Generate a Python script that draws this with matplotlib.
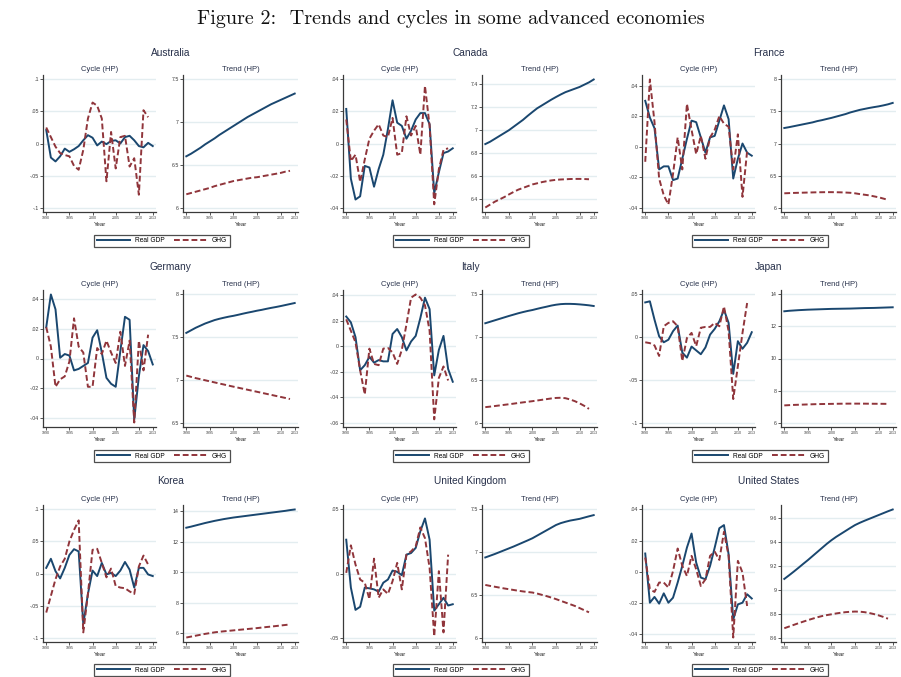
import matplotlib
matplotlib.use("Agg")
import matplotlib.pyplot as plt
from matplotlib.lines import Line2D
from matplotlib.ticker import FixedLocator, FuncFormatter

# ---------------- data ----------------
years_gdp = list(range(1990, 2014))
years_ghg = list(range(1990, 2013))
xticks = [1990, 1995, 2000, 2005, 2010, 2013]

countries = ["Australia", "Canada", "France", "Germany", "Italy", "Japan",
             "Korea", "United Kingdom", "United States"]

# Australia
aus_gdp_cycle = [0.021, -0.022, -0.028, -0.020, -0.008, -0.013, -0.009, -0.004, 0.005, 0.013, 0.009, -0.003,
                 0.003, -0.001, 0.004, 0.005, 0.000, 0.010, 0.012, 0.005, -0.004, -0.006, 0.001, -0.004]
aus_ghg_cycle = [0.025, 0.010, -0.005, -0.015, -0.018, -0.020, -0.035, -0.041, -0.010, 0.039, 0.064, 0.059,
                 0.039, -0.059, 0.018, -0.039, 0.010, 0.012, -0.036, -0.023, -0.080, 0.052, 0.041]
aus_gdp_trend = [6.60, 6.63, 6.665, 6.70, 6.74, 6.775, 6.81, 6.85, 6.885, 6.92, 6.955, 6.99,
                 7.025, 7.06, 7.09, 7.12, 7.15, 7.18, 7.21, 7.235, 7.26, 7.285, 7.31, 7.335]
aus_ghg_trend = [6.155, 6.17, 6.185, 6.20, 6.215, 6.23, 6.25, 6.265, 6.28, 6.295, 6.31, 6.32,
                 6.33, 6.34, 6.35, 6.355, 6.365, 6.375, 6.385, 6.395, 6.405, 6.42, 6.43]

# Canada
can_gdp_cycle = [0.0216, -0.022, -0.035, -0.033, -0.014, -0.015, -0.027, -0.016, -0.007, 0.009, 0.027, 0.013,
                 0.011, 0.003, 0.008, 0.015, 0.019, 0.019, 0.012, -0.031, -0.018, -0.006, -0.005, -0.003]
can_ghg_cycle = [0.015, -0.011, -0.007, -0.024, -0.010, 0.003, 0.008, 0.012, 0.005, 0.004, 0.016, -0.007,
                 -0.006, 0.017, 0.005, 0.011, -0.007, 0.036, 0.011, -0.038, -0.016, -0.004, -0.003]
can_gdp_trend = [6.88, 6.90, 6.925, 6.95, 6.975, 7.00, 7.03, 7.06, 7.09, 7.125, 7.158, 7.19,
                 7.215, 7.24, 7.265, 7.288, 7.31, 7.33, 7.345, 7.36, 7.375, 7.395, 7.415, 7.44]
can_ghg_trend = [6.33, 6.355, 6.38, 6.40, 6.42, 6.443, 6.465, 6.485, 6.50, 6.515, 6.53, 6.54,
                 6.55, 6.558, 6.565, 6.57, 6.573, 6.575, 6.577, 6.578, 6.578, 6.577, 6.575]

# France
fra_gdp_cycle = [0.030, 0.019, 0.012, -0.015, -0.013, -0.013, -0.022, -0.021, -0.008, 0.005, 0.017, 0.016,
                 0.006, -0.004, 0.006, 0.007, 0.017, 0.027, 0.018, -0.021, -0.008, 0.002, -0.004, -0.006]
fra_ghg_cycle = [-0.010, 0.044, 0.016, -0.021, -0.032, -0.038, -0.018, 0.006, -0.015, 0.028, 0.011, -0.005,
                 0.007, -0.008, 0.006, 0.011, 0.020, 0.015, 0.013, -0.015, 0.008, -0.033, -0.003]
fra_gdp_trend = [7.242, 7.255, 7.27, 7.285, 7.30, 7.315, 7.33, 7.35, 7.365, 7.383, 7.40, 7.42,
                 7.44, 7.46, 7.485, 7.505, 7.525, 7.54, 7.555, 7.568, 7.58, 7.595, 7.612, 7.634]
fra_ghg_trend = [6.222, 6.225, 6.228, 6.23, 6.232, 6.234, 6.236, 6.238, 6.239, 6.24, 6.24, 6.239,
                 6.237, 6.234, 6.23, 6.222, 6.21, 6.20, 6.19, 6.175, 6.16, 6.14, 6.12]

# Germany
deu_gdp_cycle = [0.021, 0.043, 0.033, 0.0005, 0.003, 0.002, -0.008, -0.007, -0.005, -0.003, 0.014, 0.019,
                 0.004, -0.013, -0.017, -0.019, 0.005, 0.028, 0.026, -0.041, -0.012, 0.009, 0.005, -0.004]
deu_ghg_cycle = [0.021, 0.008, -0.019, -0.014, -0.012, -0.002, 0.027, 0.008, 0.004, -0.019, -0.019, 0.007,
                 0.003, 0.012, 0.004, -0.003, 0.018, -0.005, 0.012, -0.043, 0.012, -0.008, 0.016]
deu_gdp_trend = [7.55, 7.58, 7.61, 7.635, 7.66, 7.68, 7.70, 7.715, 7.728, 7.74, 7.75, 7.762,
                 7.775, 7.787, 7.798, 7.81, 7.82, 7.832, 7.843, 7.853, 7.864, 7.876, 7.888, 7.90]
deu_ghg_trend = [7.05, 7.035, 7.02, 7.008, 6.995, 6.982, 6.97, 6.957, 6.945, 6.932, 6.92, 6.908,
                 6.896, 6.884, 6.872, 6.86, 6.848, 6.836, 6.824, 6.812, 6.80, 6.788, 6.775]

# Italy
ita_gdp_cycle = [0.0232, 0.0186, 0.007, -0.019, -0.015, -0.0085, -0.013, -0.011, -0.012, -0.012, 0.0095, 0.0134,
                 0.007, -0.0034, 0.0036, 0.008, 0.022, 0.038, 0.029, -0.023, -0.003, 0.008, -0.018, -0.028]
ita_ghg_cycle = [0.021, 0.012, 0.003, -0.019, -0.038, -0.002, -0.014, -0.015, -0.002, -0.0015, -0.005, -0.014,
                 -0.003, 0.017, 0.038, 0.0405, 0.038, 0.032, 0.012, -0.0575, -0.025, -0.016, -0.027]
ita_gdp_trend = [7.163, 7.18, 7.197, 7.214, 7.231, 7.248, 7.264, 7.28, 7.294, 7.307, 7.318, 7.332,
                 7.345, 7.357, 7.37, 7.38, 7.387, 7.39, 7.39, 7.388, 7.384, 7.379, 7.373, 7.365]
ita_ghg_trend = [6.18, 6.186, 6.193, 6.20, 6.207, 6.214, 6.221, 6.229, 6.236, 6.243, 6.25, 6.258,
                 6.266, 6.274, 6.282, 6.288, 6.29, 6.285, 6.27, 6.25, 6.225, 6.195, 6.16]

# Japan
jpn_gdp_cycle = [0.0407, 0.042, 0.0205, 0.001, -0.006, -0.003, 0.007, 0.0136, -0.018, -0.024, -0.011, -0.0155,
                 -0.020, -0.012, 0.003, 0.0097, 0.0186, 0.032, 0.0167, -0.043, -0.0047, -0.0136, -0.0066, 0.0058]
jpn_ghg_cycle = [-0.006, -0.007, -0.0097, -0.022, 0.0128, 0.0167, 0.0186, 0.0128, -0.028, -0.001, 0.005, -0.0105,
                 0.011, 0.012, 0.012, 0.0167, 0.0128, 0.036, 0.007, -0.0725, -0.034, 0.005, 0.040]
jpn_gdp_trend = [12.95, 12.98, 13.0, 13.02, 13.035, 13.05, 13.06, 13.07, 13.08, 13.09, 13.10, 13.105,
                 13.11, 13.115, 13.12, 13.13, 13.14, 13.15, 13.155, 13.16, 13.17, 13.18, 13.19, 13.20]
jpn_ghg_trend = [7.07, 7.085, 7.10, 7.11, 7.12, 7.13, 7.14, 7.15, 7.155, 7.16, 7.165, 7.17,
                 7.175, 7.178, 7.18, 7.18, 7.18, 7.178, 7.175, 7.172, 7.17, 7.168, 7.165]

# Korea
kor_gdp_cycle = [0.0088, 0.023, 0.0036, -0.0077, 0.0088, 0.029, 0.038, 0.0345, -0.079, -0.032, 0.0046, -0.004,
                 0.0165, -0.0015, 0.001, -0.004, 0.0046, 0.018, 0.006, -0.022, 0.0088, 0.0088, -0.0015, -0.004]
kor_ghg_cycle = [-0.061, -0.035, -0.009, 0.011, 0.023, 0.050, 0.068, 0.083, -0.092, -0.032, 0.037, 0.0386,
                 0.0165, -0.006, 0.0077, -0.0196, -0.022, -0.023, -0.028, -0.032, 0.011, 0.028, 0.014]
kor_gdp_trend = [12.93, 13.0, 13.08, 13.16, 13.24, 13.31, 13.38, 13.44, 13.50, 13.55, 13.60, 13.64,
                 13.68, 13.72, 13.76, 13.80, 13.84, 13.88, 13.92, 13.96, 14.0, 14.04, 14.09, 14.13]
kor_ghg_trend = [5.70, 5.76, 5.82, 5.88, 5.94, 5.99, 6.04, 6.08, 6.11, 6.14, 6.17, 6.20,
                 6.23, 6.26, 6.29, 6.32, 6.355, 6.39, 6.42, 6.455, 6.49, 6.525, 6.56]

# United Kingdom
gbr_gdp_cycle = [0.0264, -0.011, -0.0284, -0.026, -0.011, -0.0116, -0.0124, -0.0142, -0.0072, -0.0047, 0.0023, 0.0013,
                 -0.0013, 0.0147, 0.016, 0.020, 0.033, 0.043, 0.0264, -0.029, -0.024, -0.019, -0.025, -0.024]
gbr_ghg_cycle = [0.0005, 0.022, 0.007, -0.0047, -0.0072, -0.020, 0.0116, -0.0189, -0.0124, -0.016, -0.006, 0.0083,
                 -0.0124, 0.0147, 0.0173, 0.0212, 0.036, 0.0276, 0.0044, -0.049, 0.0018, -0.046, 0.0147]
gbr_gdp_trend = [6.938, 6.958, 6.978, 7.0, 7.022, 7.044, 7.066, 7.09, 7.114, 7.138, 7.163, 7.194,
                 7.225, 7.256, 7.287, 7.318, 7.34, 7.356, 7.37, 7.38, 7.39, 7.405, 7.42, 7.434]
gbr_ghg_trend = [6.616, 6.605, 6.595, 6.585, 6.575, 6.566, 6.557, 6.548, 6.54, 6.533, 6.527, 6.515,
                 6.50, 6.485, 6.468, 6.45, 6.43, 6.41, 6.39, 6.37, 6.345, 6.32, 6.295]

# United States
usa_gdp_cycle = [0.0118, -0.0197, -0.016, -0.0203, -0.0137, -0.0197, -0.0165, -0.0068, 0.0039, 0.0156, 0.0246, 0.006,
                 -0.0036, -0.0047, 0.0039, 0.0156, 0.028, 0.030, 0.0113, -0.0304, -0.0208, -0.0197, -0.0143, -0.017]
usa_ghg_cycle = [0.0092, -0.0111, -0.0128, -0.0068, -0.0068, -0.010, 0.0006, 0.015, 0.0039, -0.0026, 0.0103, 0.0017,
                 -0.009, -0.0047, 0.0103, 0.013, 0.0077, 0.0257, 0.0103, -0.042, 0.0071, -0.0004, -0.0218]
usa_gdp_trend = [9.092, 9.122, 9.153, 9.185, 9.218, 9.25, 9.284, 9.318, 9.352, 9.386, 9.417, 9.445,
                 9.47, 9.495, 9.52, 9.544, 9.563, 9.58, 9.596, 9.612, 9.628, 9.644, 9.66, 9.675]
usa_ghg_trend = [8.678, 8.692, 8.706, 8.72, 8.733, 8.746, 8.758, 8.77, 8.78, 8.788, 8.795, 8.802,
                 8.808, 8.813, 8.816, 8.818, 8.817, 8.813, 8.806, 8.797, 8.786, 8.773, 8.758]

cycle_ticks = [
    [-0.1, -0.05, 0, 0.05, 0.1],
    [-0.04, -0.02, 0, 0.02, 0.04],
    [-0.04, -0.02, 0, 0.02, 0.04],
    [-0.04, -0.02, 0, 0.02, 0.04],
    [-0.06, -0.04, -0.02, 0, 0.02, 0.04],
    [-0.1, -0.05, 0, 0.05],
    [-0.1, -0.05, 0, 0.05, 0.1],
    [-0.05, 0, 0.05],
    [-0.04, -0.02, 0, 0.02, 0.04],
]
trend_ticks = [
    [6, 6.5, 7, 7.5],
    [6.4, 6.6, 6.8, 7, 7.2, 7.4],
    [6, 6.5, 7, 7.5, 8],
    [6.5, 7, 7.5, 8],
    [6, 6.5, 7, 7.5],
    [6, 8, 10, 12, 14],
    [6, 8, 10, 12, 14],
    [6, 6.5, 7, 7.5],
    [8.6, 8.8, 9, 9.2, 9.4, 9.6],
]

gdp_cycles = [aus_gdp_cycle, can_gdp_cycle, fra_gdp_cycle, deu_gdp_cycle, ita_gdp_cycle,
              jpn_gdp_cycle, kor_gdp_cycle, gbr_gdp_cycle, usa_gdp_cycle]
ghg_cycles = [aus_ghg_cycle, can_ghg_cycle, fra_ghg_cycle, deu_ghg_cycle, ita_ghg_cycle,
              jpn_ghg_cycle, kor_ghg_cycle, gbr_ghg_cycle, usa_ghg_cycle]
gdp_trends = [aus_gdp_trend, can_gdp_trend, fra_gdp_trend, deu_gdp_trend, ita_gdp_trend,
              jpn_gdp_trend, kor_gdp_trend, gbr_gdp_trend, usa_gdp_trend]
ghg_trends = [aus_ghg_trend, can_ghg_trend, fra_ghg_trend, deu_ghg_trend, ita_ghg_trend,
              jpn_ghg_trend, kor_ghg_trend, gbr_ghg_trend, usa_ghg_trend]

# ---------------- style ----------------
W, H = 901, 677
NAVY = "#1a476f"
MAROON = "#90353b"
GRID = "#e3edf0"
TXT = "#27304a"
SANS = ["Liberation Sans", "DejaVu Sans"]
LW = 1.4
DASH = (0, (3, 1.5))

fig = plt.figure(figsize=(W / 100, H / 100), dpi=100)
fig.patch.set_facecolor("white")

fig.text(0.5, 1 - 19 / H, "Figure 2:  Trends and cycles in some advanced economies",
         ha="center", va="center", fontsize=14.5, family=["cmr10", "DejaVu Serif"], color="#111111")


def stata_fmt(v, pos=None):
    s = f"{v:.3f}".rstrip("0").rstrip(".")
    if s in ("-0", ""):
        s = "0"
    if s.startswith("0."):
        s = s[1:]
    elif s.startswith("-0."):
        s = "-" + s[2:]
    return s


def fx(px):
    return px / W


def fy(py):
    return 1 - py / H


cyc_left = [43, 343, 642]
trd_left = [183, 482, 781]
cyc_w, trd_w = 113, 115
row_top = [75, 290, 505]
ax_h = 137
title_y = [53, 267, 481]
legend_y = [241, 456, 670]
legend_x = [162, 461, 760]


def style_axes(ax, ticks, y_all, sub):
    ax.set_facecolor("white")
    for s in ("top", "right"):
        ax.spines[s].set_visible(False)
    for s in ("left", "bottom"):
        ax.spines[s].set_color("#3a3a3a")
        ax.spines[s].set_linewidth(0.9)
    lo = min(ticks[0], min(y_all))
    hi = max(ticks[-1], max(y_all))
    pad = 0.035 * (hi - lo)
    ax.set_ylim(lo - pad, hi + pad)
    ax.set_xlim(1989.3, 2013.7)
    ax.yaxis.set_major_locator(FixedLocator(ticks))
    ax.yaxis.set_major_formatter(FuncFormatter(stata_fmt))
    ax.xaxis.set_major_locator(FixedLocator(xticks))
    ax.tick_params(axis="y", labelsize=3.8, length=2, width=0.6, pad=1, colors="#3a3a3a")
    ax.tick_params(axis="x", labelsize=2.6, length=2, width=0.6, pad=1, colors="#3a3a3a")
    for t in ax.get_yticklabels() + ax.get_xticklabels():
        t.set_family(SANS)
    ax.grid(axis="y", color=GRID, lw=1.0)
    ax.set_axisbelow(True)
    ax.set_xlabel("Year", fontsize=4.3, labelpad=1, family=SANS, color="#222222")
    ax.set_title(sub, fontsize=5.5, pad=3, family=SANS, color=TXT)


for i, name in enumerate(countries):
    r, c = divmod(i, 3)
    top = row_top[r]
    axc = fig.add_axes([fx(cyc_left[c]), fy(top + ax_h), fx(cyc_w), ax_h / H])
    axt = fig.add_axes([fx(trd_left[c]), fy(top + ax_h), fx(trd_w), ax_h / H])

    axc.plot(years_gdp, gdp_cycles[i], color=NAVY, lw=LW, solid_joinstyle="round")
    axc.plot(years_ghg, ghg_cycles[i], color=MAROON, lw=LW, ls=DASH)
    style_axes(axc, cycle_ticks[i], gdp_cycles[i] + ghg_cycles[i], "Cycle (HP)")

    axt.plot(years_gdp, gdp_trends[i], color=NAVY, lw=LW)
    axt.plot(years_ghg, ghg_trends[i], color=MAROON, lw=LW, ls=DASH)
    style_axes(axt, trend_ticks[i], gdp_trends[i] + ghg_trends[i], "Trend (HP)")

    fig.text(fx((cyc_left[c] + trd_left[c] + trd_w) / 2), fy(title_y[r]), name,
             ha="center", va="center", fontsize=7.3, family=SANS, color=TXT)

    handles = [Line2D([], [], color=NAVY, lw=LW),
               Line2D([], [], color=MAROON, lw=LW, ls=DASH)]
    leg = fig.legend(handles, ["Real GDP", "GHG"], loc="center",
                     bbox_to_anchor=(fx(legend_x[c]), fy(legend_y[r])), ncol=2,
                     frameon=True, fancybox=False, handlelength=5.0,
                     columnspacing=1.4, handletextpad=0.7, borderpad=0.4,
                     prop={"family": SANS, "size": 4.8})
    leg.get_frame().set_edgecolor("#222222")
    leg.get_frame().set_linewidth(0.9)

fig.savefig("out.png", dpi=100, facecolor="white")
